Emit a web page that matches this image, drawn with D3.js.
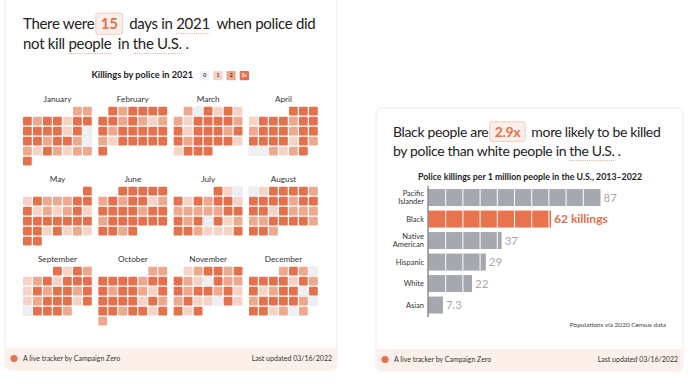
<!DOCTYPE html>
<html>
<head>
<meta charset="utf-8">
<script src="https://cdn.jsdelivr.net/npm/d3@7"></script>
<style>
  body { margin: 0; background: #fff; }
  svg { display: block; font-family: Lato, "Noto Sans", sans-serif; }
  text { white-space: pre; }
</style>
</head>
<body>
<svg id="chart" width="700" height="388"></svg>
<script>
// ---- data ----
const monthNames = ["January","February","March","April","May","June",
  "July","August","September","October","November","December"];

// killings by police per day in 2021, bucketed: 0, 1, 2, 3 (=3+)
const jan = [2,2, 3,2,3,3,1,3,3, 3,3,3,3,1,3,0, 3,3,2,3,3,2,0, 2,1,3,2,1,2,2, 3];
const feb = [3,2,3,3,3,3, 3,3,2,3,2,1,2, 3,2,3,3,3,3,3, 2,1,3,3,3,3,3, 3];
const mar = [2,0,3,1,3,1, 2,1,3,3,3,3,2, 3,1,3,3,3,2,3, 3,2,3,3,3,3,1, 1,3,3,3];
const apr = [3,3,3, 1,3,3,3,2,3,3, 2,3,3,3,2,3,3, 3,3,3,3,1,3,2, 0,0,2,1,2,3];
const may = [3, 1,3,2,2,2,3,3, 3,1,2,1,2,3,1, 3,3,3,3,3,3,3, 3,3,1,3,1,2,1, 3,3];
const jun = [3,3,3,3,3, 2,3,2,3,3,1,2, 3,3,3,3,2,3,3, 2,3,3,3,3,3,3, 3,3,2,3];
const jul = [3,1,0, 3,1,3,2,3,3,1, 2,2,2,2,2,3,3, 3,2,3,0,3,1,2, 3,3,2,1,1,1,3];
const aug = [0,1,3,3,3,3,2, 3,3,3,3,2,3,3, 3,3,1,3,2,2,2, 2,2,3,3,3,3,2, 3,3,2];
const sep = [3,1,3,2, 1,2,3,1,3,3,3, 1,3,2,3,3,2,3, 1,2,3,3,3,1,3, 0,3,3,3,2];
const oct = [2,2, 3,3,3,3,2,3,3, 3,2,3,3,2,1,3, 3,3,3,3,1,3,2, 3,3,2,3,3,1,3, 2];
const nov = [1,2,3,3,2,3, 3,2,1,0,3,2,2, 3,2,3,3,2,3,1, 2,3,1,1,0,3,1, 3,1,3];
const dec = [2,3,2,0, 3,3,3,3,1,3,2, 3,1,2,3,3,0,3, 2,3,3,3,3,2,0, 3,3,1,2,0,2];
const dailyLevels = [jan, feb, mar, apr, may, jun, jul, aug, sep, oct, nov, dec];
const legendLabels = ["0", "1", "2", "3+"];

// police killings per 1 million people, 2013-2022
const groups = ["Pacific Islander", "Black", "Native American", "Hispanic", "White", "Asian"];
const groupLines = [["Pacific", "Islander"], ["Black"], ["Native", "American"], ["Hispanic"], ["White"], ["Asian"]];
const rates = [87, 62, 37, 29, 22, 7.3];
const rateLabels = ["87", "62 killings", "37", "29", "22", "7.3"];

// ---- drawing ----
const svg = d3.select("#chart");
const orange = "#e4714b";
const level = d3.scaleOrdinal().domain([0, 1, 2, 3])
  .range(["#eef0f3", "#f7d3c5", "#eea88d", orange]);

// rich text line: words, highlighted boxes and dotted underlines
function richLine(g, x, y, size, ls, parts) {
  let cx = x;
  parts.forEach(p => {
    if (p.gap) { cx += p.gap; return; }
    const t = g.append("text").attr("x", cx).attr("y", y)
      .attr("font-size", size).attr("letter-spacing", ls)
      .attr("fill", p.box ? orange : "#222")
      .attr("font-weight", p.box ? 700 : 400)
      .text(p.t);
    const w = t.node().getComputedTextLength();
    if (p.box) {
      g.insert("rect", () => t.node())
        .attr("x", cx - 5).attr("y", y - size * 1.05)
        .attr("width", w + 10).attr("height", size * 1.4)
        .attr("rx", 2).attr("fill", "#fcefe9").attr("stroke", "#f1cdbf");
      cx += w + 5;
    } else {
      if (p.dot) {
        g.append("line").attr("x1", cx).attr("x2", cx + w)
          .attr("y1", y + 4.5).attr("y2", y + 4.5)
          .attr("stroke", "#e49a80").attr("stroke-width", 0.9)
          .attr("stroke-dasharray", "1,1.2");
      }
      cx += w;
    }
  });
}

function card(x, y, w, h) {
  svg.append("rect").attr("x", x).attr("y", y).attr("width", w).attr("height", h)
    .attr("rx", 6).attr("fill", "#fff").attr("stroke", "#ececec");
  svg.append("path")
    .attr("d", `M${x + 0.5},${y + h - 22}H${x + w - 0.5}V${y + h - 6}a6,6 0 0 1 -6,6H${x + 6.5}a6,6 0 0 1 -6,-6Z`)
    .attr("fill", "#fdf0eb");
  svg.append("circle").attr("cx", x + 9).attr("cy", y + h - 11.5).attr("r", 3.6).attr("fill", orange);
  svg.append("text").attr("x", x + 18).attr("y", y + h - 9).attr("font-size", 7).attr("fill", "#333")
    .text("A live tracker by Campaign Zero");
  svg.append("text").attr("x", x + w - 5).attr("y", y + h - 9).attr("font-size", 7)
    .attr("text-anchor", "end").attr("fill", "#333").text("Last updated 03/16/2022");
}

// ===== left card: calendar =====
card(5, -6, 332, 376);
const lt = svg.append("g");
richLine(lt, 23, 29, 15, -0.3, [
  {t: "There were "}, {gap: 3}, {t: "15", box: true}, {gap: 3}, {t: " days in "},
  {t: "2021", dot: true}, {t: " "}, {gap: 3}, {t: "when police did"}]);
richLine(lt, 23, 49, 15, -0.3, [
  {t: "not kill "}, {t: "people", dot: true}, {t: " "}, {gap: 3}, {t: "in "}, {t: "the U.S.", dot: true}, {t: " ."}]);

// legend
const leg = svg.append("g");
leg.append("text").attr("x", 193).attr("y", 78).attr("text-anchor", "end")
  .attr("font-size", 9.2).attr("font-weight", 700).attr("fill", "#222")
  .text("Killings by police in 2021");
const legX = d3.scaleBand().domain(legendLabels).range([200, 249]).paddingInner(0.3);
leg.selectAll("rect").data(legendLabels).join("rect")
  .attr("x", d => legX(d)).attr("y", 71).attr("width", legX.bandwidth()).attr("height", legX.bandwidth())
  .attr("rx", 1).attr("fill", (d, i) => level(i));
leg.selectAll("text.l").data(legendLabels).join("text").attr("class", "l")
  .attr("x", d => legX(d) + legX.bandwidth() / 2).attr("y", 77.2)
  .attr("text-anchor", "middle").attr("font-size", 5).attr("font-weight", 700)
  .attr("fill", (d, i) => i === 3 ? "#fff" : "#333").text(d => d);

// month grids
const monthCol = d3.scaleLinear().domain([0, 3]).range([23, 249]);
const monthRow = d3.scaleLinear().domain([0, 2]).range([106.7, 266.7]);
const pitch = 10, cellSize = 8.8;
dailyLevels.forEach((days, m) => {
  const ox = monthCol(m % 4), oy = monthRow(Math.floor(m / 4));
  const g = svg.append("g");
  g.append("text").attr("x", ox + (7 * pitch - 1) / 2).attr("y", oy - 5)
    .attr("text-anchor", "middle").attr("font-size", 8.2).attr("fill", "#333")
    .text(monthNames[m]);
  const cells = days.map((v, i) => {
    const date = new Date(2021, m, i + 1);
    return {v, dow: date.getDay(), week: d3.timeWeek.count(d3.timeMonth(date), date)};
  });
  g.selectAll("rect").data(cells).join("rect")
    .attr("x", d => ox + d.dow * pitch).attr("y", d => oy + d.week * pitch)
    .attr("width", cellSize).attr("height", cellSize).attr("rx", 1)
    .attr("fill", d => level(d.v))
    .attr("stroke", d => d.v === 0 ? "#e3e6ea" : "none").attr("stroke-width", 0.6);
});

// ===== right card: bar chart =====
card(376, 108, 307, 263);
const rt = svg.append("g");
richLine(rt, 393, 136.5, 14, -0.35, [
  {t: "Black people are "}, {gap: 3}, {t: "2.9x", box: true}, {gap: 3}, {t: " more likely to be killed"}]);
richLine(rt, 393, 156, 14, -0.35, [
  {t: "by police than white people in "}, {t: "the U.S.", dot: true}, {t: " ."}]);

svg.append("text").attr("x", 530).attr("y", 180).attr("text-anchor", "middle")
  .attr("font-size", 8.8).attr("font-weight", 700).attr("fill", "#222")
  .text("Police killings per 1 million people in the U.S., 2013–2022");

const x = d3.scaleLinear().domain([0, 87]).range([428.5, 600.5]);
const y = d3.scaleBand().domain(groups).range([186.9, 315.7]).paddingInner(0.21).paddingOuter(0.1);
const bars = svg.append("g");
bars.selectAll("rect").data(groups).join("rect")
  .attr("x", x(0)).attr("y", d => y(d))
  .attr("width", (d, i) => x(rates[i]) - x(0)).attr("height", y.bandwidth())
  .attr("fill", (d, i) => i === 1 ? "#e8744e" : "#a6a8af");
// white segment lines across bars
const segs = d3.range(1, 10).map(k => k * 8.7);
groups.forEach((gname, i) => {
  bars.selectAll(null).data(segs.filter(s => s < rates[i])).join("line")
    .attr("x1", d => x(d)).attr("x2", d => x(d))
    .attr("y1", y(gname)).attr("y2", y(gname) + y.bandwidth())
    .attr("stroke", "#fff").attr("stroke-width", 1);
});
bars.append("line").attr("x1", x(0) - 0.5).attr("x2", x(0) - 0.5).attr("y1", 186).attr("y2", 317)
  .attr("stroke", "#555").attr("stroke-width", 1);

// value labels
bars.selectAll("text.v").data(groups).join("text").attr("class", "v")
  .attr("x", (d, i) => x(rates[i]) + 3).attr("y", d => y(d) + y.bandwidth() / 2 + 4.3)
  .attr("font-size", (d, i) => i === 1 ? 12 : 11.5)
  .attr("font-weight", (d, i) => i === 1 ? 700 : 400)
  .attr("fill", (d, i) => i === 1 ? "#e06f48" : "#a7a9af")
  .text((d, i) => rateLabels[i]);

// category labels
groups.forEach((gname, i) => {
  const lines = groupLines[i];
  const cy = y(gname) + y.bandwidth() / 2;
  const t = bars.append("text").attr("x", 424).attr("text-anchor", "end")
    .attr("font-size", 7.5).attr("fill", "#333");
  lines.forEach((ln, j) => {
    t.append("tspan").attr("x", 424)
      .attr("y", cy + 2.6 + (j - (lines.length - 1) / 2) * 8)
      .text(ln);
  });
});

svg.append("text").attr("x", 666).attr("y", 327).attr("text-anchor", "end")
  .attr("font-size", 6.5).attr("fill", "#444").text("Populations via 2020 Census data");
</script>
</body>
</html>
